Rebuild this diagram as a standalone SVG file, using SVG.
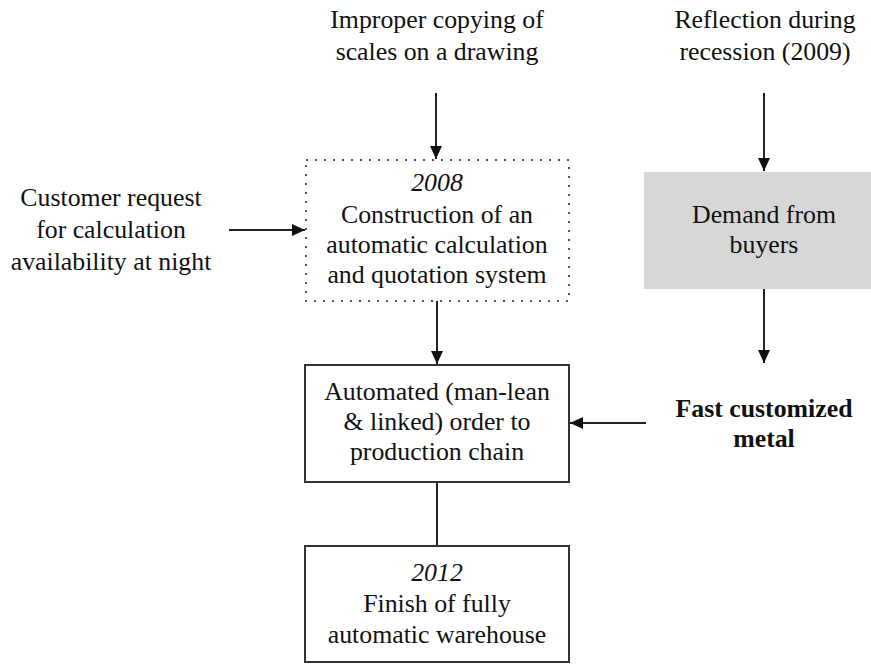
<svg xmlns="http://www.w3.org/2000/svg" width="871" height="664" viewBox="0 0 871 664">
<style>
text{font-family:"Liberation Serif","Times New Roman",serif;font-size:25.8px;fill:#111;text-anchor:middle}
.it{font-style:italic}
.b{font-weight:bold}
.box{fill:#fff;stroke:#333;stroke-width:2}
.dot{fill:none;stroke:#555;stroke-width:2;stroke-dasharray:2 7}
.gray{fill:#d7d7d7;stroke:none}
.ln{stroke:#222;stroke-width:2;fill:none}
</style>
<defs>
<marker id="ah" viewBox="0 0 13 12" refX="13" refY="6" markerWidth="13" markerHeight="12" markerUnits="userSpaceOnUse" orient="auto">
<path d="M0,0 L13,6 L0,12 Z" fill="#111"/>
</marker>
</defs>
<rect width="871" height="664" fill="#fff"/>
<g id="connectors">
<line class="ln" x1="436" y1="93" x2="436" y2="159" marker-end="url(#ah)"/>
<line class="ln" x1="229" y1="230" x2="305" y2="230" marker-end="url(#ah)"/>
<line class="ln" x1="437" y1="301" x2="437" y2="364" marker-end="url(#ah)"/>
<line class="ln" x1="764" y1="93" x2="764" y2="171" marker-end="url(#ah)"/>
<line class="ln" x1="764" y1="289" x2="764" y2="363" marker-end="url(#ah)"/>
<line class="ln" x1="646" y1="423" x2="570" y2="423" marker-end="url(#ah)"/>
<line class="ln" x1="437" y1="483" x2="437" y2="546"/>
</g>
<g id="n-improper">
<text x="437" y="28">Improper copying of</text>
<text x="437" y="60">scales on a drawing</text>
</g>
<g id="n-reflection">
<text x="765" y="28">Reflection during</text>
<text x="765" y="60">recession (2009)</text>
</g>
<g id="n-customer">
<text x="111" y="206">Customer request</text>
<text x="111" y="238">for calculation</text>
<text x="111" y="270">availability at night</text>
</g>
<g id="n-2008">
<rect class="dot" x="306" y="160" width="263" height="141"/>
<text class="it" x="437" y="191">2008</text>
<text x="437" y="223">Construction of an</text>
<text x="437" y="253">automatic calculation</text>
<text x="437" y="283">and quotation system</text>
</g>
<g id="n-demand">
<rect class="gray" x="644" y="172" width="227" height="117"/>
<text x="764" y="223">Demand from</text>
<text x="764" y="253">buyers</text>
</g>
<g id="n-fast">
<text class="b" x="764" y="417">Fast customized</text>
<text class="b" x="764" y="447">metal</text>
</g>
<g id="n-automated">
<rect class="box" x="305" y="365" width="264" height="117"/>
<text x="437" y="400">Automated (man-lean</text>
<text x="437" y="430">&amp; linked) order to</text>
<text x="437" y="460">production chain</text>
</g>
<g id="n-2012">
<rect class="box" x="305" y="546" width="264" height="116"/>
<text class="it" x="437" y="581">2012</text>
<text x="437" y="612">Finish of fully</text>
<text x="437" y="643">automatic warehouse</text>
</g>
</svg>
